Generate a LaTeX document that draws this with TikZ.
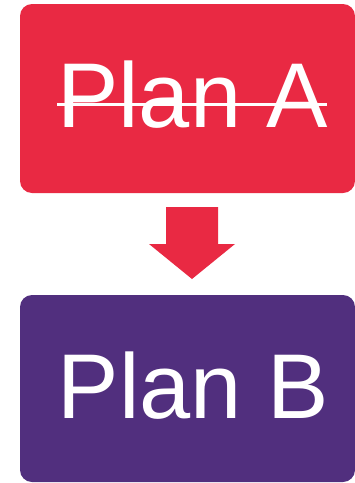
\documentclass[tikz,border=0pt]{standalone}
\usepackage{fontspec}
\setmainfont{Liberation Sans}
\definecolor{planred}{RGB}{233,41,67}
\definecolor{planpurple}{RGB}{81,47,126}
\begin{document}
\begin{tikzpicture}[x=1pt,y=-1pt,
  planbox/.style={rounded corners=12pt, inner sep=0pt},
  plantext/.style={text=white, inner sep=0pt, anchor=base west, font=\fontsize{92}{92}\selectfont}]
\useasboundingbox (0,0) rectangle (355,483);
\fill[planred, planbox] (20,4) rectangle (355,193);
\coordinate (A) at (187.5,193);
\node[plantext] (ta) at (57,127) {Plan A};
\draw[white, line width=3pt] (57,104) -- (327,104);
\fill[planpurple, planbox] (20,295) rectangle (355,482);
\coordinate (B) at (187.5,295);
\node[plantext] (tb) at (57.5,418) {Plan B};
\fill[planred] (166,207) -- (218,207) -- (218,244) -- (235,244) -- (192,279) -- (149,244) -- (166,244) -- cycle;
\end{tikzpicture}
\end{document}
